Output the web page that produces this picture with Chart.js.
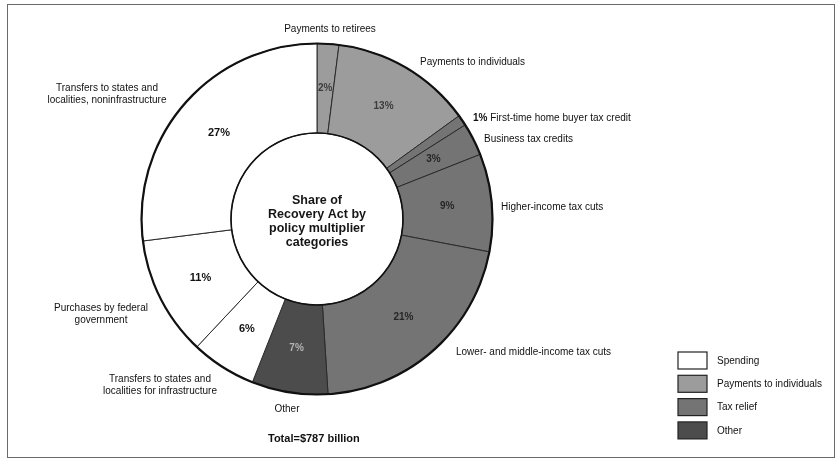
<!DOCTYPE html>
<html>
<head>
<meta charset="utf-8">
<script src="https://cdn.jsdelivr.net/npm/chart.js@4/dist/chart.umd.min.js"></script>
<style>
  html, body { margin: 0; padding: 0; background: #ffffff; }
  #wrap { position: relative; width: 838px; height: 460px; }
  #frame { position: absolute; left: 7px; top: 4px; width: 828px; height: 454px;
           border: 1.5px solid #6a6a6a; box-sizing: border-box; pointer-events: none; }
</style>
</head>
<body>
<div id="wrap">
  <canvas id="chart" width="838" height="460"></canvas>
  <div id="frame"></div>
</div>
<script>
// Recovery Act spending, split by policy multiplier category (clockwise from 12 o'clock)
const categories = [
  'Payments to retirees',
  'Payments to individuals',
  'First-time home buyer tax credit',
  'Business tax credits',
  'Higher-income tax cuts',
  'Lower- and middle-income tax cuts',
  'Other',
  'Transfers to states and localities for infrastructure',
  'Purchases by federal government',
  'Transfers to states and localities, noninfrastructure'
];
const shares = [2, 13, 1, 3, 9, 21, 7, 6, 11, 27];
const groupOf = [1, 1, 2, 2, 2, 2, 3, 0, 0, 0];
const groupNames = ['Spending', 'Payments to individuals', 'Tax relief', 'Other'];
const centerTitle = ['Share of', 'Recovery Act by', 'policy multiplier', 'categories'];
const totalNote = 'Total=$787 billion';

const groupFill = ['#ffffff', '#9c9c9c', '#747474', '#4c4c4c'];
const FONT = '"Liberation Sans", Arial, Helvetica, sans-serif';
const pctStyle = [
  { font: 'bold 11px ' + FONT, color: '#111111' },
  { font: 'bold 10px ' + FONT, color: '#3c3c3c' },
  { font: 'bold 10px ' + FONT, color: '#262626' },
  { font: 'bold 10px ' + FONT, color: '#b4b4b4' }
];

// callout texts around the ring: [lines, x, y, align, boldPrefix]
const callouts = [
  [[categories[0]], 330, 29, 'center'],
  [[categories[1]], 420, 62, 'left'],
  [[categories[2]], 473, 118, 'left', shares[2] + '% '],
  [[categories[3]], 484, 139, 'left'],
  [[categories[4]], 501, 207, 'left'],
  [[categories[5]], 456, 352, 'left'],
  [['Other'], 287, 409, 'center'],
  [['Transfers to states and', 'localities for infrastructure'], 160, 379, 'center'],
  [['Purchases by federal', 'government'], 101, 308, 'center'],
  [['Transfers to states and', 'localities, noninfrastructure'], 107, 88, 'center']
];

const ringDecor = {
  id: 'ringDecor',
  afterDatasetsDraw(chart) {
    const ctx = chart.ctx;
    const arcs = chart.getDatasetMeta(0).data;
    const cx = arcs[0].x, cy = arcs[0].y;
    const R = arcs[0].outerRadius, r = arcs[0].innerRadius;
    ctx.save();
    // outer rim and inner rim
    ctx.strokeStyle = '#111111';
    ctx.lineWidth = 2.2;
    ctx.beginPath(); ctx.arc(cx, cy, R, 0, Math.PI * 2); ctx.stroke();
    ctx.lineWidth = 1.6;
    ctx.beginPath(); ctx.arc(cx, cy, r, 0, Math.PI * 2); ctx.stroke();

    ctx.textAlign = 'center';
    ctx.textBaseline = 'middle';
    ctx.fillStyle = '#151515';
    ctx.font = 'bold 12.5px ' + FONT;
    centerTitle.forEach((t, i) => ctx.fillText(t, cx, 201 + i * 14));

    // percentage in the middle of each slice
    arcs.forEach((a, i) => {
      if (i === 2) return; // shown with its callout
      const p = a.getCenterPoint();
      const st = pctStyle[groupOf[i]];
      ctx.font = st.font;
      ctx.fillStyle = st.color;
      ctx.fillText(shares[i] + '%', p.x, p.y);
    });
    ctx.restore();
  },
  afterDraw(chart) {
    const ctx = chart.ctx;
    ctx.save();
    ctx.textBaseline = 'middle';
    ctx.fillStyle = '#111111';
    callouts.forEach(([lines, x, y, align, prefix]) => {
      lines.forEach((l, k) => {
        const ly = y + k * 12;
        if (prefix) {
          ctx.textAlign = 'left';
          ctx.font = 'bold 10px ' + FONT;
          const pw = ctx.measureText(prefix).width;
          ctx.fillText(prefix, x, ly);
          ctx.font = '10px ' + FONT;
          ctx.fillText(l, x + pw, ly);
        } else {
          ctx.textAlign = align;
          ctx.font = '10px ' + FONT;
          ctx.fillText(l, x, ly);
        }
      });
    });

    ctx.textAlign = 'left';
    ctx.font = 'bold 11px ' + FONT;
    ctx.fillText(totalNote, 268, 439);

    // group key
    groupNames.forEach((g, i) => {
      const y = 352 + i * 23.3;
      ctx.fillStyle = groupFill[i];
      ctx.fillRect(678, y, 29, 17);
      ctx.lineWidth = 1.2;
      ctx.strokeStyle = '#222222';
      ctx.strokeRect(678, y, 29, 17);
      ctx.fillStyle = '#111111';
      ctx.font = '10px ' + FONT;
      ctx.fillText(g, 717, y + 9);
    });
    ctx.restore();
  }
};

new Chart(document.getElementById('chart'), {
  type: 'doughnut',
  data: {
    labels: categories,
    datasets: [{
      data: shares,
      backgroundColor: groupOf.map(g => groupFill[g]),
      borderColor: '#2a2a2a',
      borderWidth: 1,
      hoverOffset: 0
    }]
  },
  options: {
    responsive: false,
    animation: false,
    cutout: 86,
    layout: { padding: { left: 141, right: 345, top: 43, bottom: 65 } },
    plugins: {
      legend: { display: false },
      tooltip: { enabled: false }
    }
  },
  plugins: [ringDecor]
});
</script>
</body>
</html>
